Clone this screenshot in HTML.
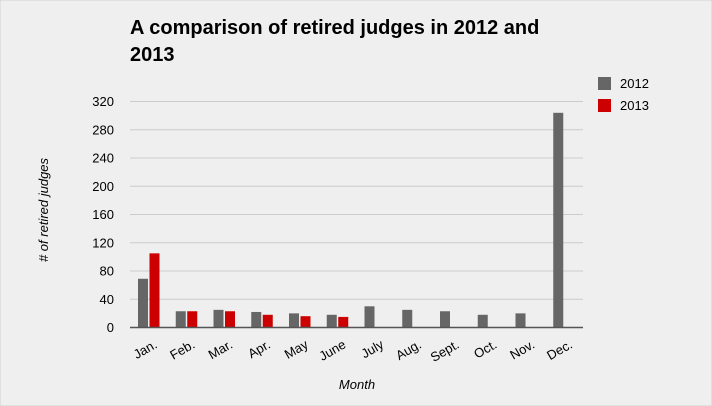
<!DOCTYPE html>
<html><head><meta charset="utf-8"><style>
body{margin:0;background:#fff}
svg{display:block;font-family:"Liberation Sans",Arial,sans-serif}
</style></head><body>
<svg width="712" height="406">
<rect x="0" y="0" width="712" height="406" fill="#efefef" stroke="#d0d0d0"/>
<text x="130" y="34" font-size="20" font-weight="bold" fill="#000">A comparison of retired judges in 2012 and</text>
<text x="130" y="61" font-size="20" font-weight="bold" fill="#000">2013</text>
<g id="grid"></g><g id="bars"></g><g id="xl"></g>
<line x1="130" x2="583" y1="327.5" y2="327.5" stroke="#555" stroke-width="1.5"/>
<text transform="translate(48,210) rotate(-90)" text-anchor="middle" font-size="13" font-style="italic"># of retired judges</text>
<text x="357" y="389" text-anchor="middle" font-size="13" font-style="italic">Month</text>
<g>
<rect x="598" y="77" width="13" height="13" fill="#666"/>
<text x="620" y="88" font-size="13">2012</text>
<rect x="598" y="99" width="13" height="13" fill="#cc0000"/>
<text x="620" y="110" font-size="13">2013</text>
</g>
</svg>
<script>
const categories=["Jan.","Feb.","Mar.","Apr.","May","June","July","Aug.","Sept.","Oct.","Nov.","Dec."];
const series2012=[69,23,25,22,20,18,30,25,23,18,20,304];
const series2013=[105,23,23,18,16,15,0,0,0,0,0,0];
const yTicks=[0,40,80,120,160,200,240,280,320];
const NS="http://www.w3.org/2000/svg";
const x0=130,x1=583,yBase=327.5,yTop=101.5,yMax=320;
const band=(x1-x0)/categories.length;
const y=v=>yBase-(v/yMax)*(yBase-yTop);
function mk(t,a,p){const e=document.createElementNS(NS,t);for(const k in a)e.setAttribute(k,a[k]);p.appendChild(e);return e;}
const g=document.getElementById('grid'),b=document.getElementById('bars'),xl=document.getElementById('xl');
yTicks.forEach(t=>{
  if(t>0){const l=mk('line',{x1:x0,x2:x1,y1:y(t),y2:y(t),stroke:'#ccc','stroke-width':1},g);
  
  }
  const tx=mk('text',{x:114,y:y(t)+4.5,'text-anchor':'end','font-size':13},g);tx.textContent=t;
  
  
});
categories.forEach((c,i)=>{
  const bx=x0+i*band+8;
  if(series2012[i]>0){const r=mk('rect',{x:bx,y:y(series2012[i]),width:10,height:yBase-y(series2012[i]),fill:'#666'},b);
  
  }
  if(series2013[i]>0){const r=mk('rect',{x:bx+11.5,y:y(series2013[i]),width:10,height:yBase-y(series2013[i]),fill:'#cc0000'},b);
  
  }
  const cx=x0+i*band+band/2+4;
  const t=mk('text',{transform:`translate(${cx},${338}) rotate(-30)`,'text-anchor':'end','font-size':13,dy:'0.8em'},xl);t.textContent=c;
  
  
});
</script>
</body></html>
